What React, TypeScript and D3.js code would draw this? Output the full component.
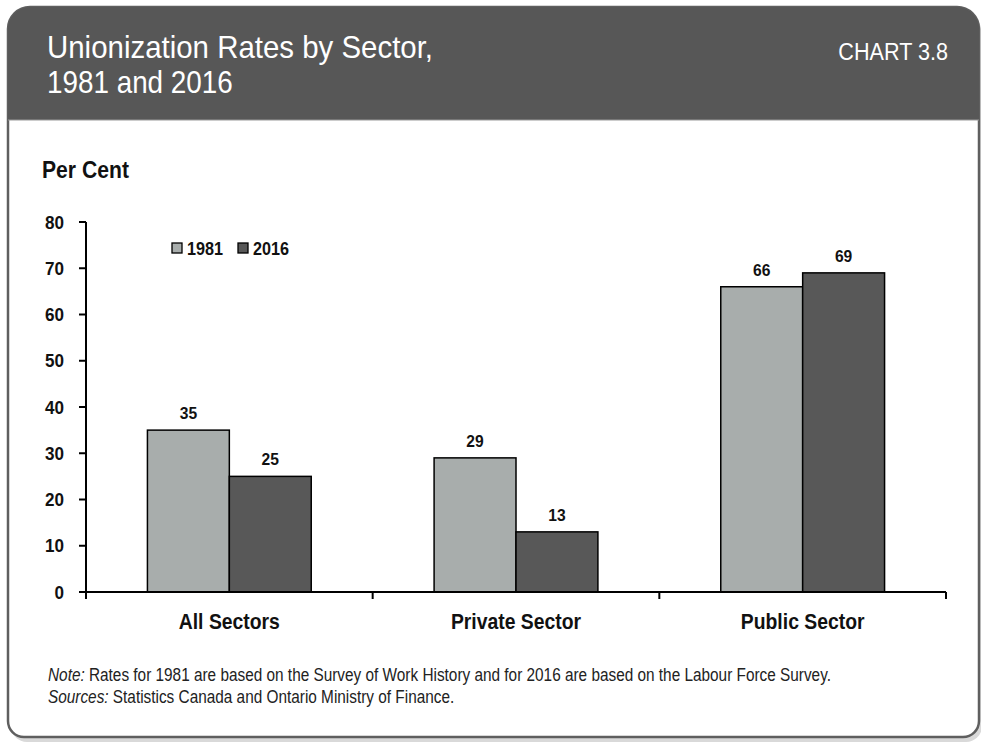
import React from "react";
import * as d3 from "d3";

const categories = ["All Sectors", "Private Sector", "Public Sector"];
const seriesNames = ["1981", "2016"];
const values1981 = [35, 29, 66];
const values2016 = [25, 13, 69];
const yTicks = [0, 10, 20, 30, 40, 50, 60, 70, 80];
const colors = ["#a8adac", "#585858"];

const FONT = "'Liberation Sans', Arial, sans-serif";

type TProps = {
  x: number;
  y: number;
  sx?: number;
  anchor?: "start" | "middle" | "end";
  size: number;
  bold?: boolean;
  fill?: string;
  children: React.ReactNode;
};

function T({ x, y, sx = 1, anchor = "start", size, bold, fill = "#111", children }: TProps) {
  return (
    <text
      transform={`translate(${x},${y}) scale(${sx},1)`}
      textAnchor={anchor}
      fontSize={size}
      fontWeight={bold ? "bold" : "normal"}
      fill={fill}
    >
      {children}
    </text>
  );
}

export default function App() {
  const W = 981, H = 744;
  const plot = { left: 86, right: 946, top: 222, bottom: 592 };
  const x = d3.scaleBand<string>().domain(categories).range([plot.left, plot.right]).paddingInner(0).paddingOuter(0);
  const inner = d3.scaleBand<string>().domain(seriesNames).range([0, x.bandwidth()]).paddingInner(0).paddingOuter(0.75);
  const y = d3.scaleLinear().domain([0, 80]).range([plot.bottom, plot.top]);
  const data = [values1981, values2016];

  // card geometry
  const cx0 = 8, cx1 = 979, cy0 = 7, cy1 = 737, rT = 22, rB = 16;
  const cardPath = `M${cx0},${cy0 + rT} A${rT},${rT} 0 0 1 ${cx0 + rT},${cy0} L${cx1 - rT},${cy0} A${rT},${rT} 0 0 1 ${cx1},${cy0 + rT} L${cx1},${cy1 - rB} A${rB},${rB} 0 0 1 ${cx1 - rB},${cy1} L${cx0 + rB},${cy1} A${rB},${rB} 0 0 1 ${cx0},${cy1 - rB} Z`;
  const headerH = 120;
  const headerPath = `M${cx0},${headerH} L${cx0},${cy0 + rT} A${rT},${rT} 0 0 1 ${cx0 + rT},${cy0} L${cx1 - rT},${cy0} A${rT},${rT} 0 0 1 ${cx1},${cy0 + rT} L${cx1},${headerH} Z`;

  const xTicks = [plot.left, ...categories.map((c) => (x(c) as number) + x.bandwidth())];

  return (
    <svg width={W} height={H} style={{ position: "absolute", left: 0, top: 0 }} fontFamily={FONT}>
      <rect x={0} y={0} width={W} height={H} fill="#ffffff" />
      {/* shadow */}
      <path d={cardPath} transform="translate(3,5)" fill="#d9d9d9" />
      <path d={cardPath} fill="#ffffff" stroke="#5f5f5f" strokeWidth={2.5} />
      <path d={headerPath} fill="#575757" />
      <line x1={cx0} x2={cx1} y1={headerH} y2={headerH} stroke="#9a9a9a" strokeWidth={1} />
      <T x={47} y={58} size={32} sx={0.92} fill="#ffffff">Unionization Rates by Sector,</T>
      <T x={47} y={93} size={32} sx={0.87} fill="#ffffff">1981 and 2016</T>
      <T x={948} y={60} size={24} sx={0.9} anchor="end" fill="#ffffff">CHART 3.8</T>

      <T x={42} y={178} size={23} sx={0.92} bold>Per Cent</T>

      {/* bars */}
      {categories.map((c, ci) => (
        <g key={c}>
          {seriesNames.map((s, si) => {
            const v = data[si][ci];
            const bx = (x(c) as number) + (inner(s) as number);
            return (
              <g key={s}>
                <rect x={bx} y={y(v)} width={inner.bandwidth()} height={y(0) - y(v)} fill={colors[si]} stroke="#000" strokeWidth={1.5} />
                <T x={bx + inner.bandwidth() / 2} y={y(v) - 11} size={17} sx={0.92} anchor="middle" bold>{v}</T>
              </g>
            );
          })}
        </g>
      ))}

      {/* y axis */}
      <line x1={plot.left} x2={plot.left} y1={plot.top} y2={plot.bottom} stroke="#000" strokeWidth={2} />
      {yTicks.map((t) => (
        <g key={t}>
          <line x1={plot.left - 7} x2={plot.left} y1={y(t)} y2={y(t)} stroke="#000" strokeWidth={2} />
          <T x={64} y={y(t) + 6.5} size={18} sx={0.95} anchor="end" bold>{t}</T>
        </g>
      ))}

      {/* x axis */}
      <line x1={plot.left - 7} x2={plot.right} y1={plot.bottom} y2={plot.bottom} stroke="#000" strokeWidth={2} />
      {xTicks.map((tx, i) => (
        <line key={i} x1={tx} x2={tx} y1={plot.bottom} y2={plot.bottom + 7} stroke="#000" strokeWidth={2} />
      ))}
      {categories.map((c) => (
        <T key={c} x={(x(c) as number) + x.bandwidth() / 2} y={629} size={22} sx={0.88} anchor="middle" bold>{c}</T>
      ))}

      {/* legend */}
      {seriesNames.map((s, i) => {
        const lx = 172 + i * 66;
        return (
          <g key={s}>
            <rect x={lx} y={243} width={10} height={10} fill={colors[i]} stroke="#000" strokeWidth={1.3} />
            <T x={lx + 15} y={255} size={18} sx={0.9} bold>{s}</T>
          </g>
        );
      })}

      {/* notes */}
      <g transform="translate(48,681) scale(0.83,1)">
        <text fontSize={18.5} fill="#222">
          <tspan fontStyle="italic">Note:</tspan> Rates for 1981 are based on the Survey of Work History and for 2016 are based on the Labour Force Survey.
        </text>
      </g>
      <g transform="translate(48,703) scale(0.83,1)">
        <text fontSize={18.5} fill="#222">
          <tspan fontStyle="italic">Sources:</tspan> Statistics Canada and Ontario Ministry of Finance.
        </text>
      </g>
    </svg>
  );
}
